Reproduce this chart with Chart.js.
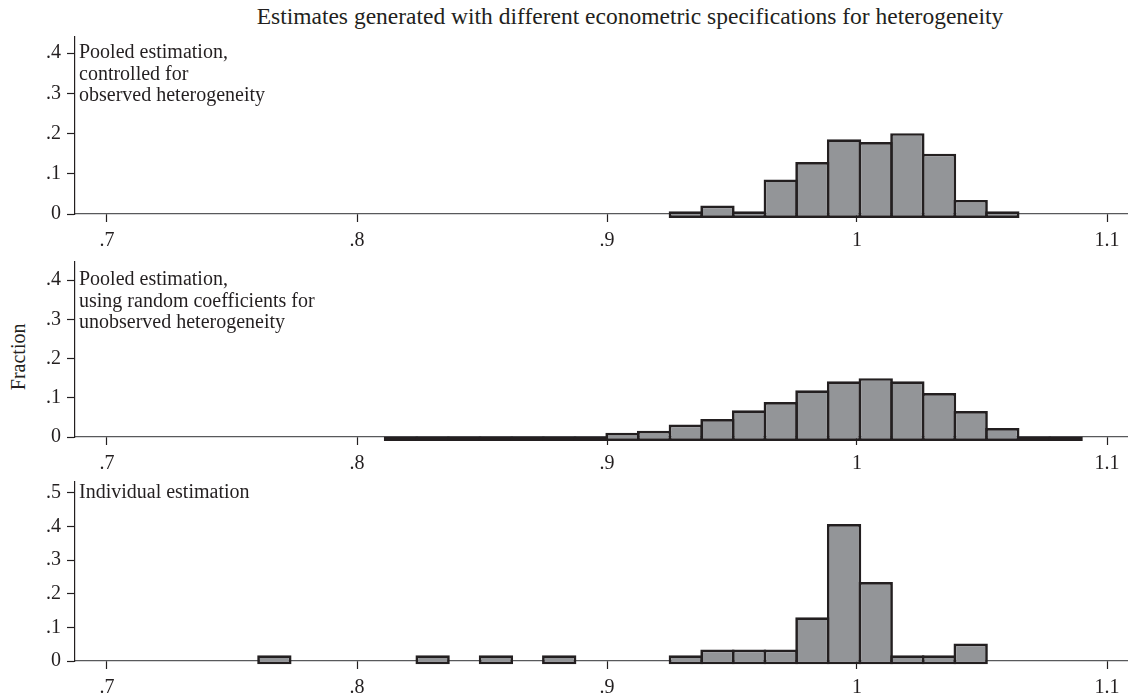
<!DOCTYPE html>
<html>
<head>
<meta charset="utf-8">
<script src="https://cdn.jsdelivr.net/npm/chart.js@4"></script>
<style>
  body { margin: 0; background: #fff; width: 1128px; height: 694px; position: relative; overflow: hidden;
         font-family: 'Liberation Serif', 'Times New Roman', serif; color: #231f20; }
  canvas { position: absolute; left: 0; }
  .txt { position: absolute; font-size: 20px; line-height: 21.7px; white-space: pre; }
</style>
</head>
<body>
<div class="txt" style="left:130px; width:1000px; text-align:center; top:4px; font-size:23.5px; line-height:24px;">Estimates generated with different econometric specifications for heterogeneity</div>
<div class="txt" style="left:-31px; width:100px; text-align:center; top:346px; transform:rotate(-90deg);">Fraction</div>

<canvas id="c1" width="1128" height="230" style="top:17px"></canvas>
<canvas id="c2" width="1128" height="228" style="top:242px"></canvas>
<canvas id="c3" width="1128" height="232" style="top:462px"></canvas>

<div class="txt" style="left:79px; top:41px;">Pooled estimation,
controlled for
observed heterogeneity</div>
<div class="txt" style="left:79px; top:268px;">Pooled estimation,
using random coefficients for
unobserved heterogeneity</div>
<div class="txt" style="left:79px; top:481px;">Individual estimation</div>

<script>
// bin centres (bin width ~0.01266)
const topBins = [0.93153, 0.94419, 0.95685, 0.96951, 0.98217, 0.99483, 1.00749, 1.02015, 1.03281, 1.04547, 1.05813];
const topFrac = [0.007, 0.021, 0.007, 0.086, 0.129, 0.186, 0.179, 0.201, 0.150, 0.035, 0.007];

const midBins = [0.81759, 0.83025, 0.84291, 0.85557, 0.86823, 0.88089, 0.89355, 0.90621, 0.91887,
                 0.93153, 0.94419, 0.95685, 0.96951, 0.98217, 0.99483, 1.00749, 1.02015, 1.03281,
                 1.04547, 1.05813, 1.07079, 1.08345];
const midFrac = [0.001, 0.001, 0.001, 0.001, 0.001, 0.001, 0.001, 0.011, 0.016,
                 0.032, 0.046, 0.068, 0.089, 0.119, 0.142, 0.150, 0.142, 0.112,
                 0.066, 0.023, 0.001, 0.001];

const indBins = [0.76695, 0.83025, 0.85557, 0.88089, 0.93153, 0.94419, 0.95685, 0.96951,
                 0.98217, 0.99483, 1.00749, 1.02015, 1.03281, 1.04547];
const indFrac = [0.017, 0.017, 0.017, 0.017, 0.017, 0.034, 0.034, 0.034,
                 0.130, 0.407, 0.235, 0.017, 0.017, 0.052];

const xTicks = [0.7, 0.8, 0.9, 1.0, 1.1];
const yTicks4 = [0, 0.1, 0.2, 0.3, 0.4];
const yTicks5 = [0, 0.1, 0.2, 0.3, 0.4, 0.5];

const FILL = '#939598';
const EDGE = '#231f20';

Chart.defaults.font.family = "'Liberation Serif', 'Times New Roman', serif";
Chart.defaults.font.size = 20;
Chart.defaults.color = '#231f20';

function fmt(v) {
  const s = String(Math.round(v * 10) / 10);
  return s.startsWith('0.') ? s.slice(1) : s;
}

function makePanel(id, bins, fracs, yMax, yTicks) {
  return new Chart(document.getElementById(id), {
    type: 'bar',
    data: {
      datasets: [{
        data: bins.map((b, i) => ({ x: b, y: fracs[i] })),
        backgroundColor: FILL,
        borderColor: EDGE,
        borderWidth: 2.7,
        borderSkipped: false,
        base: -0.01,
        barPercentage: 1.085,
        categoryPercentage: 1,
        inflateAmount: 0,
        clip: false,
      }],
    },
    options: {
      responsive: false,
      animation: false,
      devicePixelRatio: 1,
      layout: { padding: { top: 20, left: 0, right: 0, bottom: 0 } },
      plugins: { legend: { display: false }, tooltip: { enabled: false } },
      scales: {
        x: {
          type: 'linear',
          offset: false,
          min: 0.6872,
          max: 1.1084,
          z: 1,
          afterBuildTicks: (s) => { s.ticks = xTicks.map((v) => ({ value: v })); },
          afterFit: (s) => { s.height = 33; },
          ticks: { callback: fmt, padding: 7, maxRotation: 0, autoSkip: false },
          grid: { offset: false, drawOnChartArea: false, tickLength: 8, color: EDGE, tickWidth: 1.2 },
          border: { color: '#58595b', width: 1.2 },
        },
        y: {
          min: 0,
          max: yMax,
          afterBuildTicks: (s) => { s.ticks = yTicks.map((v) => ({ value: v })); },
          afterFit: (s) => { s.width = 75; },
          ticks: { callback: fmt, padding: 6 },
          grid: { drawOnChartArea: false, tickLength: 8, color: EDGE, tickWidth: 1.2 },
          border: { color: EDGE, width: 1.2 },
        },
      },
    },
  });
}

makePanel('c1', topBins, topFrac, 0.44, yTicks4);
makePanel('c2', midBins, midFrac, 0.446, yTicks4);
makePanel('c3', indBins, indFrac, 0.532, yTicks5);
</script>
</body>
</html>
